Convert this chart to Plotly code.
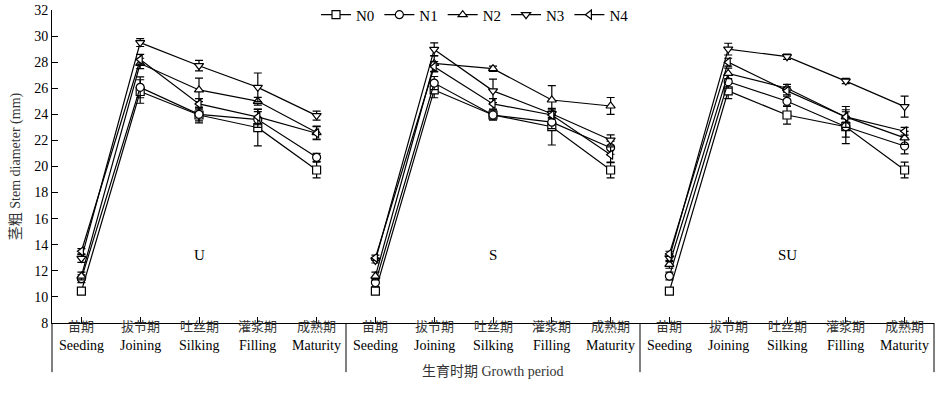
import plotly.graph_objects as go

panels = ["U", "S", "SU"]
periods_cn = ["苗期", "拔节期", "吐丝期", "灌浆期", "成熟期"]
periods_en = ["Seeding", "Joining", "Silking", "Filling", "Maturity"]
series = ["N0", "N1", "N2", "N3", "N4"]

# values per series: U (5), S (5), SU (5)
N0 = [10.45, 25.75, 23.95, 22.98, 19.73,
      10.45, 25.87, 23.95, 23.05, 19.73,
      10.45, 25.80, 23.95, 23.05, 19.73]
N1 = [11.4, 26.07, 24.0, 23.6, 20.7,
      11.1, 26.4, 23.95, 23.4, 21.44,
      11.6, 26.5, 25.0, 23.05, 21.57]
N2 = [11.6, 27.9, 25.87, 25.0, 22.6,
      11.6, 27.9, 27.5, 25.1, 24.64,
      12.5, 27.14, 26.0, 23.8, 22.2]
N3 = [12.95, 29.5, 27.73, 26.07, 23.9,
      12.8, 28.98, 25.8, 24.05, 22.03,
      13.0, 29.0, 28.42, 26.55, 24.59]
N4 = [13.5, 28.2, 24.8, 23.8, 22.55,
      13.0, 27.65, 24.8, 23.95, 20.9,
      13.3, 28.0, 25.8, 23.8, 22.7]

E0 = [0.2, 0.9, 0.6, 1.4, 0.6, 0.2, 0.6, 0.3, 1.4, 0.6, 0.2, 0.6, 0.7, 1.3, 0.6]
E1 = [0.3, 0.8, 0.5, 0.6, 0.3, 0.3, 0.5, 0.4, 0.5, 0.5, 0.3, 0.5, 0.4, 0.8, 0.6]
E2 = [0.3, 0.4, 0.9, 0.3, 0.5, 0.3, 0.6, 0.2, 1.1, 0.65, 0.3, 0.4, 0.3, 0.8, 0.5]
E3 = [0.3, 0.3, 0.4, 1.1, 0.35, 0.2, 0.5, 0.9, 0.3, 0.4, 0.3, 0.45, 0.2, 0.2, 0.8]
E4 = [0.2, 0.4, 0.4, 0.6, 0.5, 0.2, 0.4, 0.4, 0.3, 0.6, 0.2, 0.3, 0.3, 0.4, 0.3]

values = [N0, N1, N2, N3, N4]
errors = [E0, E1, E2, E3, E4]
symbols = ["square", "circle", "triangle-up", "triangle-down", "triangle-left"]

FONT = "Liberation Serif, Times New Roman, Noto Sans CJK SC, serif"

fig = go.Figure()
for name, vals, errs, sym in zip(series, values, errors, symbols):
    xs, ys, es = [], [], []
    for p in range(3):
        for i in range(5):
            k = p * 5 + i
            xs.append(k)
            ys.append(vals[k])
            es.append(errs[k])
        if p < 2:
            xs.append(None); ys.append(None); es.append(None)
    fig.add_trace(go.Scatter(
        x=xs, y=ys, name=name, mode="lines+markers",
        connectgaps=False,
        line=dict(color="black", width=1.2),
        marker=dict(symbol=sym, size=8, color="white",
                    line=dict(color="black", width=1.2)),
        error_y=dict(type="data", array=es, visible=True,
                     color="black", thickness=1.2, width=4),
    ))

ticks_x = list(range(15))
fig.update_xaxes(range=[-0.5, 14.5], tickvals=ticks_x, showticklabels=False,
                 ticks="inside", ticklen=6, tickcolor="black", tickwidth=1,
                 showline=True, linecolor="black", linewidth=1,
                 showgrid=False, zeroline=False, automargin=False)
fig.update_yaxes(range=[8, 32], dtick=2, ticks="inside", ticklen=6,
                 tickcolor="black", showline=True, linecolor="black",
                 linewidth=1, showgrid=False, zeroline=False, automargin=False,
                 ticklabeloverflow="allow",
                 tickfont=dict(family=FONT, size=14, color="black"),
                 title=dict(text="茎粗 Stem diameter (mm)", standoff=10,
                            font=dict(family=FONT, size=14, color="#333")))

# period labels
for p in range(3):
    for i in range(5):
        k = p * 5 + i
        fig.add_annotation(x=k, xref="x", y=0, yref="paper", yshift=-13,
                           text=periods_cn[i], showarrow=False,
                           font=dict(family=FONT, size=13, color="#333"))
        fig.add_annotation(x=k, xref="x", y=0, yref="paper", yshift=-32,
                           text=periods_en[i], showarrow=False,
                           font=dict(family=FONT, size=14, color="black"))
    fig.add_annotation(x=p * 5 + 2, xref="x", y=13.2, yref="y",
                       text=panels[p], showarrow=False,
                       font=dict(family=FONT, size=15, color="black"))

fig.add_annotation(x=0.5, xref="paper", y=0, yref="paper", yshift=-58,
                   text="生育时期 Growth period", showarrow=False,
                   font=dict(family=FONT, size=14, color="#333"))

for xp in [0, 1 / 3, 2 / 3, 1]:
    fig.add_shape(type="line", xref="paper", yref="paper", x0=xp, x1=xp,
                  y0=0, y1=-0.157, line=dict(color="black", width=1))

fig.update_layout(
    width=940, height=393,
    margin=dict(l=52, r=6, t=10, b=70, autoexpand=False),
    plot_bgcolor="white", paper_bgcolor="white",
    font=dict(family=FONT, size=14, color="black"),
    showlegend=True,
    legend=dict(orientation="h", x=0.4796, xanchor="center",
                y=1.037, yref="paper", yanchor="top",
                bgcolor="rgba(0,0,0,0)",
                font=dict(family=FONT, size=15, color="black"),
                itemwidth=30, tracegroupgap=0),
)

fig.write_html("out.html",
               config={"displayModeBar": False},
               post_script="document.body.style.margin='0';")
